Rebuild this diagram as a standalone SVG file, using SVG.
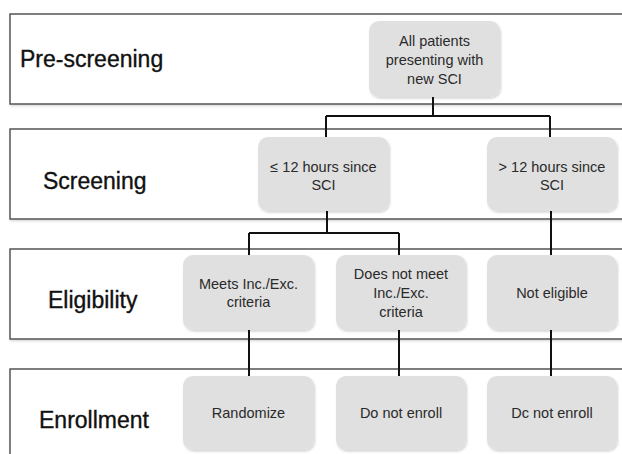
<svg xmlns="http://www.w3.org/2000/svg" width="622" height="454" viewBox="0 0 622 454">
<defs>
<filter id="sh" x="-10%" y="-10%" width="130%" height="130%">
<feDropShadow dx="1" dy="1.5" stdDeviation="1.2" flood-color="#000" flood-opacity="0.18"/>
</filter>
<filter id="bsh" x="-5%" y="-5%" width="110%" height="115%">
<feDropShadow dx="1" dy="1.5" stdDeviation="1" flood-color="#000" flood-opacity="0.15"/>
</filter>
</defs>
<style>
.band{fill:#fff;stroke:#555;stroke-width:1.5}
.lbl{font-family:"Liberation Sans",Arial,sans-serif;font-size:23px;fill:#111;stroke:#111;stroke-width:0.35}
.node{fill:#e0e0e0;stroke:none}
.nt{font-family:"Liberation Sans",Arial,sans-serif;font-size:14.5px;fill:#2a2a2a;text-anchor:middle}
.conn{fill:none;stroke:#111;stroke-width:2}
</style>
<rect width="622" height="454" fill="#fff"/>
<g id="lanes">
<rect class="band" filter="url(#bsh)" x="10" y="14" width="630" height="90"/>
<rect class="band" filter="url(#bsh)" x="10" y="129" width="630" height="90"/>
<rect class="band" filter="url(#bsh)" x="10" y="249" width="630" height="90"/>
<rect class="band" filter="url(#bsh)" x="10" y="369" width="630" height="110"/>
<text class="lbl" x="20" y="67">Pre-screening</text>
<text class="lbl" x="43" y="189">Screening</text>
<text class="lbl" x="48" y="308">Eligibility</text>
<text class="lbl" x="39" y="428">Enrollment</text>
</g>
<g id="connectors">
<path class="conn" d="M433,97 V116 M326,116 H550 M326,116 V137 M550,116 V137"/>
<path class="conn" d="M327,211 V233 M249,233 H399 M249,233 V255 M399,233 V255"/>
<path class="conn" d="M551,211 V255"/>
<path class="conn" d="M249,330 V376 M399,330 V376 M551,330 V376"/>
</g>
<g id="n1"><rect class="node" filter="url(#sh)" x="369" y="21" width="131" height="76" rx="10"/>
<text class="nt" x="434.5" y="46">All patients</text><text class="nt" x="434.5" y="65">presenting with</text><text class="nt" x="434.5" y="84">new SCI</text></g>
<g id="n2"><rect class="node" filter="url(#sh)" x="258" y="137" width="131" height="74" rx="10"/>
<text class="nt" x="323.5" y="172">≤ 12 hours since</text><text class="nt" x="323.5" y="190">SCI</text></g>
<g id="n3"><rect class="node" filter="url(#sh)" x="487" y="137" width="130" height="74" rx="10"/>
<text class="nt" x="552" y="172">&gt; 12 hours since</text><text class="nt" x="552" y="190">SCI</text></g>
<g id="n4"><rect class="node" filter="url(#sh)" x="183" y="255" width="131" height="75" rx="10"/>
<text class="nt" x="248.5" y="289">Meets Inc./Exc.</text><text class="nt" x="248.5" y="307">criteria</text></g>
<g id="n5"><rect class="node" filter="url(#sh)" x="336" y="255" width="130" height="75" rx="10"/>
<text class="nt" x="401" y="279">Does not meet</text><text class="nt" x="401" y="298">Inc./Exc.</text><text class="nt" x="401" y="317">criteria</text></g>
<g id="n6"><rect class="node" filter="url(#sh)" x="487" y="255" width="130" height="75" rx="10"/>
<text class="nt" x="552" y="298">Not eligible</text></g>
<g id="n7"><rect class="node" filter="url(#sh)" x="183" y="376" width="131" height="74" rx="10"/>
<text class="nt" x="248.5" y="418">Randomize</text></g>
<g id="n8"><rect class="node" filter="url(#sh)" x="336" y="376" width="130" height="74" rx="10"/>
<text class="nt" x="401" y="418">Do not enroll</text></g>
<g id="n9"><rect class="node" filter="url(#sh)" x="487" y="376" width="130" height="74" rx="10"/>
<text class="nt" x="552" y="418">Dc not enroll</text></g>
</svg>
